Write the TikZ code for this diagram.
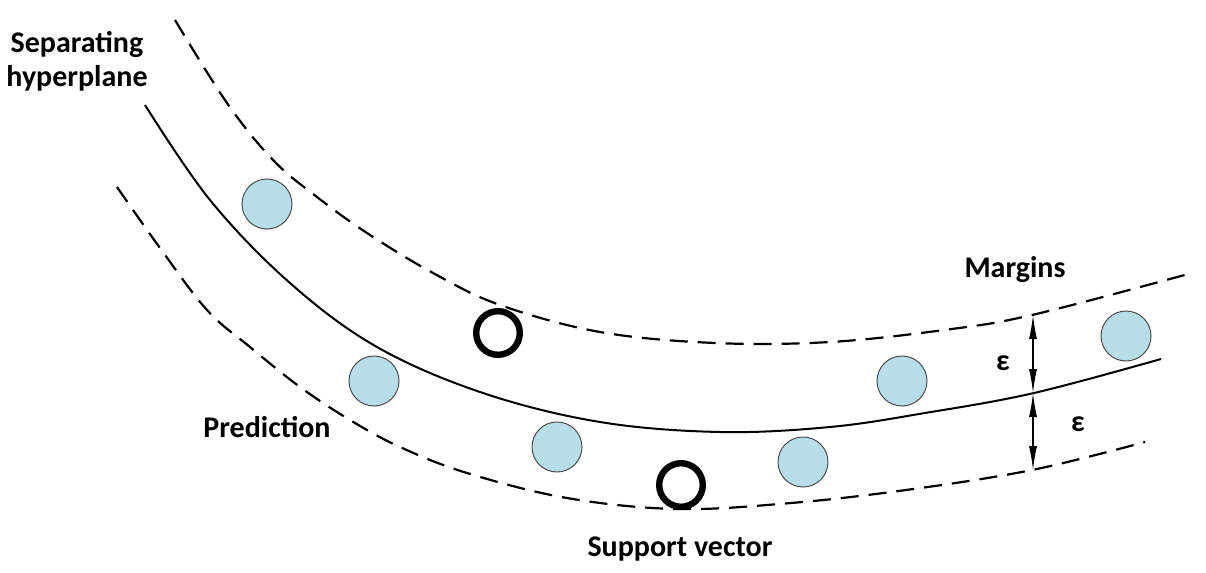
\documentclass[tikz,border=0pt]{standalone}
\usepackage{fontspec}
\setmainfont{Carlito}
\definecolor{sampleblue}{HTML}{B7DDE8}
\usetikzlibrary{%
        arrows.meta, % arrow tips
    }

\begin{document}
\begin{tikzpicture}[x=0.5pt, y=-0.5pt, line width=1pt]
    \tikzset{%
        marginline/.style={dash pattern=on 9pt off 5pt, line width=1.1pt},
        sample/.style={circle, draw=black!70, line width=0.5pt, fill=sampleblue, minimum size=25pt, inner sep=0pt},
        support/.style={circle, draw=black, line width=3.2pt, minimum size=21.8pt, inner sep=0pt},
        textlabel/.style={font=\fontsize{15}{17}\selectfont\bfseries, align=center},
        epsarrow/.style={arrows={Latex[length=12pt, width=4pt]}-{Latex[length=12pt, width=4pt]}, line width=0.6pt},
    }

    \useasboundingbox (0, 0) rectangle (1206, 573);

    % prediction
    \draw plot [smooth, tension=0.6] coordinates {(145, 105) (210, 200) (290, 283) (377, 347) (483, 393) (600, 422) (720, 432) (830, 427) (925, 413) (1034, 393) (1161, 359)};
    % margins
    \draw [marginline] plot [smooth, tension=0.6] coordinates {(175, 20) (227, 103) (273, 160) (317, 197) (367, 233) (433, 273) (500, 305) (600, 332) (715, 343) (830, 342) (944, 330) (1032, 315) (1192, 273)};
    \draw [marginline] plot [smooth, tension=0.6] coordinates {(117, 187) (160, 248) (207, 310) (250, 347) (300, 387) (350, 420) (400, 447) (467, 473) (567, 498) (677, 509) (791, 503) (906, 490) (1032, 470) (1145, 442)};

    % samples
    \foreach \name/\x/\y in {s1/267/204, s2/374/381, s3/557/447, s4/803/462, s5/902/381, s6/1126/336} {%
            \node [sample] (\name) at (\x, \y) {};
        };
    % support vectors
    \node [support] (sv1) at (498, 333) {};
    \node [support] (sv2) at (681, 485) {};

    % epsilon
    \coordinate (epstop) at (1033, 315);
    \coordinate (epsmid) at (1033, 393);
    \coordinate (epsbot) at (1033, 470);
    \draw [epsarrow] (epstop) -- (epsmid);
    \draw [epsarrow] (epsmid) -- (epsbot);
    \node [textlabel] (eps1) at (1003, 363) {ε};
    \node [textlabel] (eps2) at (1078, 424) {ε};

    % labels
    \node [textlabel] (sephyp) at (77, 61) {Separating\\hyperplane};
    \node [textlabel] (margins) at (1015, 270) {Margins};
    \node [textlabel] (prediction) at (267, 427) {Prediction};
    \node [textlabel] (supvec) at (680, 549) {Support vector};
\end{tikzpicture}
\end{document}
